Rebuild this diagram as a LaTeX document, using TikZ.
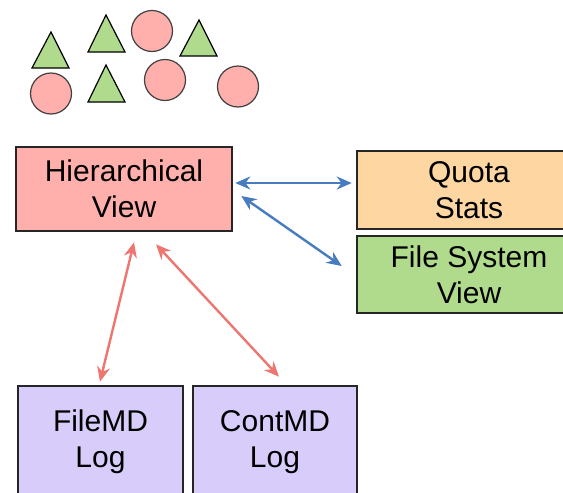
\documentclass[tikz,border=0pt]{standalone}
\usepackage{fontspec}
\setmainfont{Liberation Sans}
\usetikzlibrary{arrows.meta,calc}
\definecolor{boxpink}{RGB}{255,176,173}
\definecolor{boxorange}{RGB}{253,214,162}
\definecolor{boxgreen}{RGB}{176,219,140}
\definecolor{boxpurple}{RGB}{215,204,250}
\definecolor{arrblue}{RGB}{72,124,192}
\definecolor{arrred}{RGB}{238,118,112}
\definecolor{shpgreen}{RGB}{176,219,140}
\definecolor{shppink}{RGB}{255,176,173}
\tikzset{
  compbox/.style={draw=black!85, line width=2.6pt, align=center, inner sep=0pt,
    font=\fontsize{30}{36}\selectfont},
  bluearr/.style={draw=arrblue, line width=2.4pt, {Stealth[length=15pt,width=13pt]}-{Stealth[length=15pt,width=13pt]}},
  redarr/.style={draw=arrred, line width=2.4pt, {Stealth[length=15pt,width=13pt]}-{Stealth[length=15pt,width=13pt]}},
  tri/.style={fill=shpgreen, draw=black, line width=1.2pt, line join=miter},
  circ/.style={fill=shppink, draw=black!75, line width=1.2pt},
}
\begin{document}
\begin{tikzpicture}[x=1pt,y=-1pt]
\useasboundingbox (0,0) rectangle (563,493);
\clip (0,0) rectangle (563,493);
% shapes
\draw[tri] (51,32) -- (69,68) -- (32,68) -- cycle;
\draw[tri] (106,15) -- (125,52) -- (88,52) -- cycle;
\draw[tri] (199,20) -- (217,56) -- (180,56) -- cycle;
\draw[tri] (106,65) -- (125,102) -- (88,102) -- cycle;
\draw[circ] (152,31) circle[radius=20.5];
\draw[circ] (51,93.5) circle[radius=20.5];
\draw[circ] (165,80) circle[radius=20.5];
\draw[circ] (238,86.5) circle[radius=20.5];
% boxes
\node[compbox, fill=boxpink, minimum width=216pt, minimum height=84pt] (hier) at (124,189) {Hierarchical\\View};
\node[compbox, fill=boxorange, minimum width=224pt, minimum height=78pt] (quota) at (469,190) {Quota\\Stats};
\node[compbox, fill=boxgreen, minimum width=224pt, minimum height=77pt] (fs) at (469,274.5) {File System\\View};
\node[compbox, fill=boxpurple, minimum width=165pt, minimum height=112pt] (filemd) at (100.5,442) {FileMD\\Log};
\node[compbox, fill=boxpurple, minimum width=164pt, minimum height=112pt] (contmd) at (275,442) {ContMD\\Log};
% connectors
\draw[bluearr] ($(hier.east)+(2,-6)$) -- ($(quota.west)+(-4,-7)$);
\draw[bluearr] ($(hier.east)+(8,7)$) -- ($(fs.west)+(-14,-8.5)$);
\draw[redarr] ($(hier.south)+(10,10)$) -- ($(filemd.north)+(-0.5,-3)$);
\draw[redarr] ($(hier.south)+(32,12)$) -- ($(contmd.north)+(4,-8)$);
\end{tikzpicture}
\end{document}
